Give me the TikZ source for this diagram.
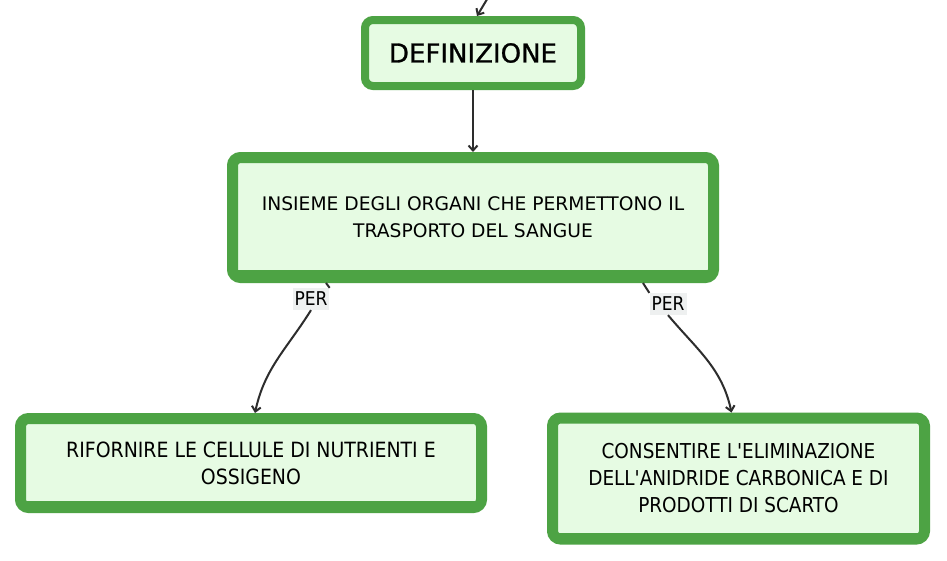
\documentclass[tikz,border=0pt]{standalone}
\usepackage{fontspec}
\setmainfont{DejaVu Sans}
\newfontfamily\condfont{DejaVu Sans Condensed}
\newfontfamily\deffont[FakeBold=1]{DejaVu Sans}
\usetikzlibrary{arrows.meta}
\definecolor{boxgreen}{RGB}{77,163,68}
\definecolor{boxfill}{RGB}{230,251,227}
\definecolor{lblbg}{RGB}{238,240,240}
\definecolor{linec}{RGB}{45,45,45}
\tikzset{
 gbox/.style={draw=boxgreen, fill=boxfill, rounded corners=8pt, inner sep=0pt, align=center},
 conn/.style={draw=linec, line width=2pt, -{Straight Barb[length=5pt,width=9pt]}},
 plainconn/.style={draw=linec, line width=2pt},
 perlbl/.style={fill=lblbg, inner xsep=2pt, inner ysep=4pt, font=\condfont\fontsize{19}{20}\selectfont},
 thickbot/.style={fill=boxgreen},
}
\begin{document}
\begin{tikzpicture}[x=1pt,y=-1pt]
\useasboundingbox[fill=white] (0,0) rectangle (947,560);
% boxes
\node[gbox, line width=8pt, minimum width=216pt, minimum height=66pt,
  font=\deffont\fontsize{26}{30}\selectfont] (def) at (473,53) {DEFINIZIONE};
\node[gbox, line width=11pt, minimum width=481pt, minimum height=120pt,
  font=\fontsize{18.7}{27}\selectfont] (mid) at (473,217.5)
  {INSIEME DEGLI ORGANI CHE PERMETTONO IL\\TRASPORTO DEL SANGUE};
\fill[thickbot] ([xshift=11pt,yshift=11pt]mid.south west) rectangle ([xshift=-11pt,yshift=13pt]mid.south east);
\node[gbox, line width=11pt, minimum width=461pt, minimum height=89pt,
  font=\condfont\fontsize{21}{27}\selectfont] (left) at (251,463)
  {RIFORNIRE LE CELLULE DI NUTRIENTI E\\OSSIGENO};
\fill[thickbot] ([xshift=11pt,yshift=11pt]left.south west) rectangle ([xshift=-11pt,yshift=12pt]left.south east);
\node[gbox, line width=11pt, minimum width=372pt, minimum height=121pt,
  font=\condfont\fontsize{20.5}{27}\selectfont] (right) at (738.5,478.5)
  {CONSENTIRE L'ELIMINAZIONE\\DELL'ANIDRIDE CARBONICA E DI\\PRODOTTI DI SCARTO};
\fill[thickbot] ([xshift=11pt,yshift=11pt]right.south west) rectangle ([xshift=-11pt,yshift=12pt]right.south east);
% labels
\node[perlbl] (p1) at (311,299) {PER};
\node[perlbl] (p2) at (668,304) {PER};
% connectors
\coordinate (topc) at (489,-4);
\draw[conn] (topc) -- ([xshift=4pt]def.north);
\draw[conn] (def.south) -- (mid.north);
\draw[plainconn] ([xshift=-147pt]mid.south) -- (p1.north east);
\draw[conn] (p1.south) to[out=-122,in=78] ([xshift=4pt]left.north);
\draw[plainconn] ([xshift=170pt]mid.south) -- (p2.north west);
\draw[conn] (p2.south) to[out=-50,in=102] ([xshift=-7pt]right.north);
\end{tikzpicture}
\end{document}
